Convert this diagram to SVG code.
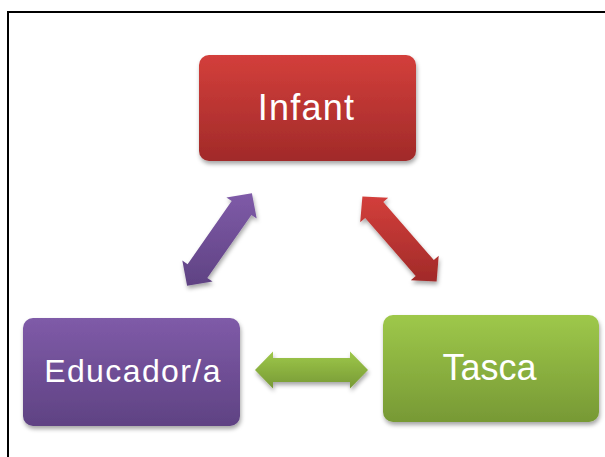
<svg xmlns="http://www.w3.org/2000/svg" width="605" height="457" viewBox="0 0 605 457">
  <defs>
    <linearGradient id="gRed" x1="0" y1="0" x2="0" y2="1">
      <stop offset="0" stop-color="#d33f3b"/>
      <stop offset="1" stop-color="#a12a29"/>
    </linearGradient>
    <linearGradient id="gPurple" x1="0" y1="0" x2="0" y2="1">
      <stop offset="0" stop-color="#7f5ba8"/>
      <stop offset="1" stop-color="#5f4283"/>
    </linearGradient>
    <linearGradient id="gGreen" x1="0" y1="0" x2="0" y2="1">
      <stop offset="0" stop-color="#9ec84a"/>
      <stop offset="1" stop-color="#779935"/>
    </linearGradient>
    <filter id="shadow" x="-10%" y="-10%" width="125%" height="130%">
      <feDropShadow dx="1" dy="3" stdDeviation="2" flood-color="#000" flood-opacity="0.35"/>
    </filter>
  </defs>
  <style>
    .frame { fill: none; stroke: #000; stroke-width: 2; }
    .box { filter: url(#shadow); }
    .label { font-family: "Liberation Sans", Arial, sans-serif; font-size: 36px; fill: #fff; text-anchor: middle; }
    .label.small { font-size: 32px; letter-spacing: 1.4px; }
    .arrow { filter: url(#shadow); }
  </style>

  <!-- outer frame, open to the right and bottom -->
  <path class="frame" d="M8 457 V12 H605"/>

  <g id="connectors">
    <polygon class="arrow" fill="url(#gPurple)" points="187.1,285.8 182.3,260.4 187.6,264.2 231.7,201.1 226.4,197.4 251.9,193.2 256.7,218.6 251.4,214.9 207.3,278 212.6,281.6"/>
    <polygon class="arrow" fill="url(#gRed)" points="362.4,196.4 388.2,197.8 383.3,202.1 433.8,260.1 438.7,255.8 436.6,281.6 410.8,280.2 415.7,275.9 365.2,217.9 360.2,222.2"/>
    <polygon class="arrow" fill="url(#gGreen)" points="255,370 273,351.5 273,358 350,358 350,351.5 368,370 350,388.5 350,382 273,382 273,388.5"/>
  </g>

  <g id="infant">
    <rect class="box" x="199" y="55" width="217" height="106" rx="10" fill="url(#gRed)"/>
    <text class="label" x="306.5" y="119.5" letter-spacing="1.2">Infant</text>
  </g>

  <g id="educador">
    <rect class="box" x="23" y="318" width="217" height="108" rx="10" fill="url(#gPurple)"/>
    <text class="label small" x="133" y="382">Educador/a</text>
  </g>

  <g id="tasca">
    <rect class="box" x="383" y="315" width="216" height="107" rx="10" fill="url(#gGreen)"/>
    <text class="label" x="489.5" y="380">Tasca</text>
  </g>
</svg>
